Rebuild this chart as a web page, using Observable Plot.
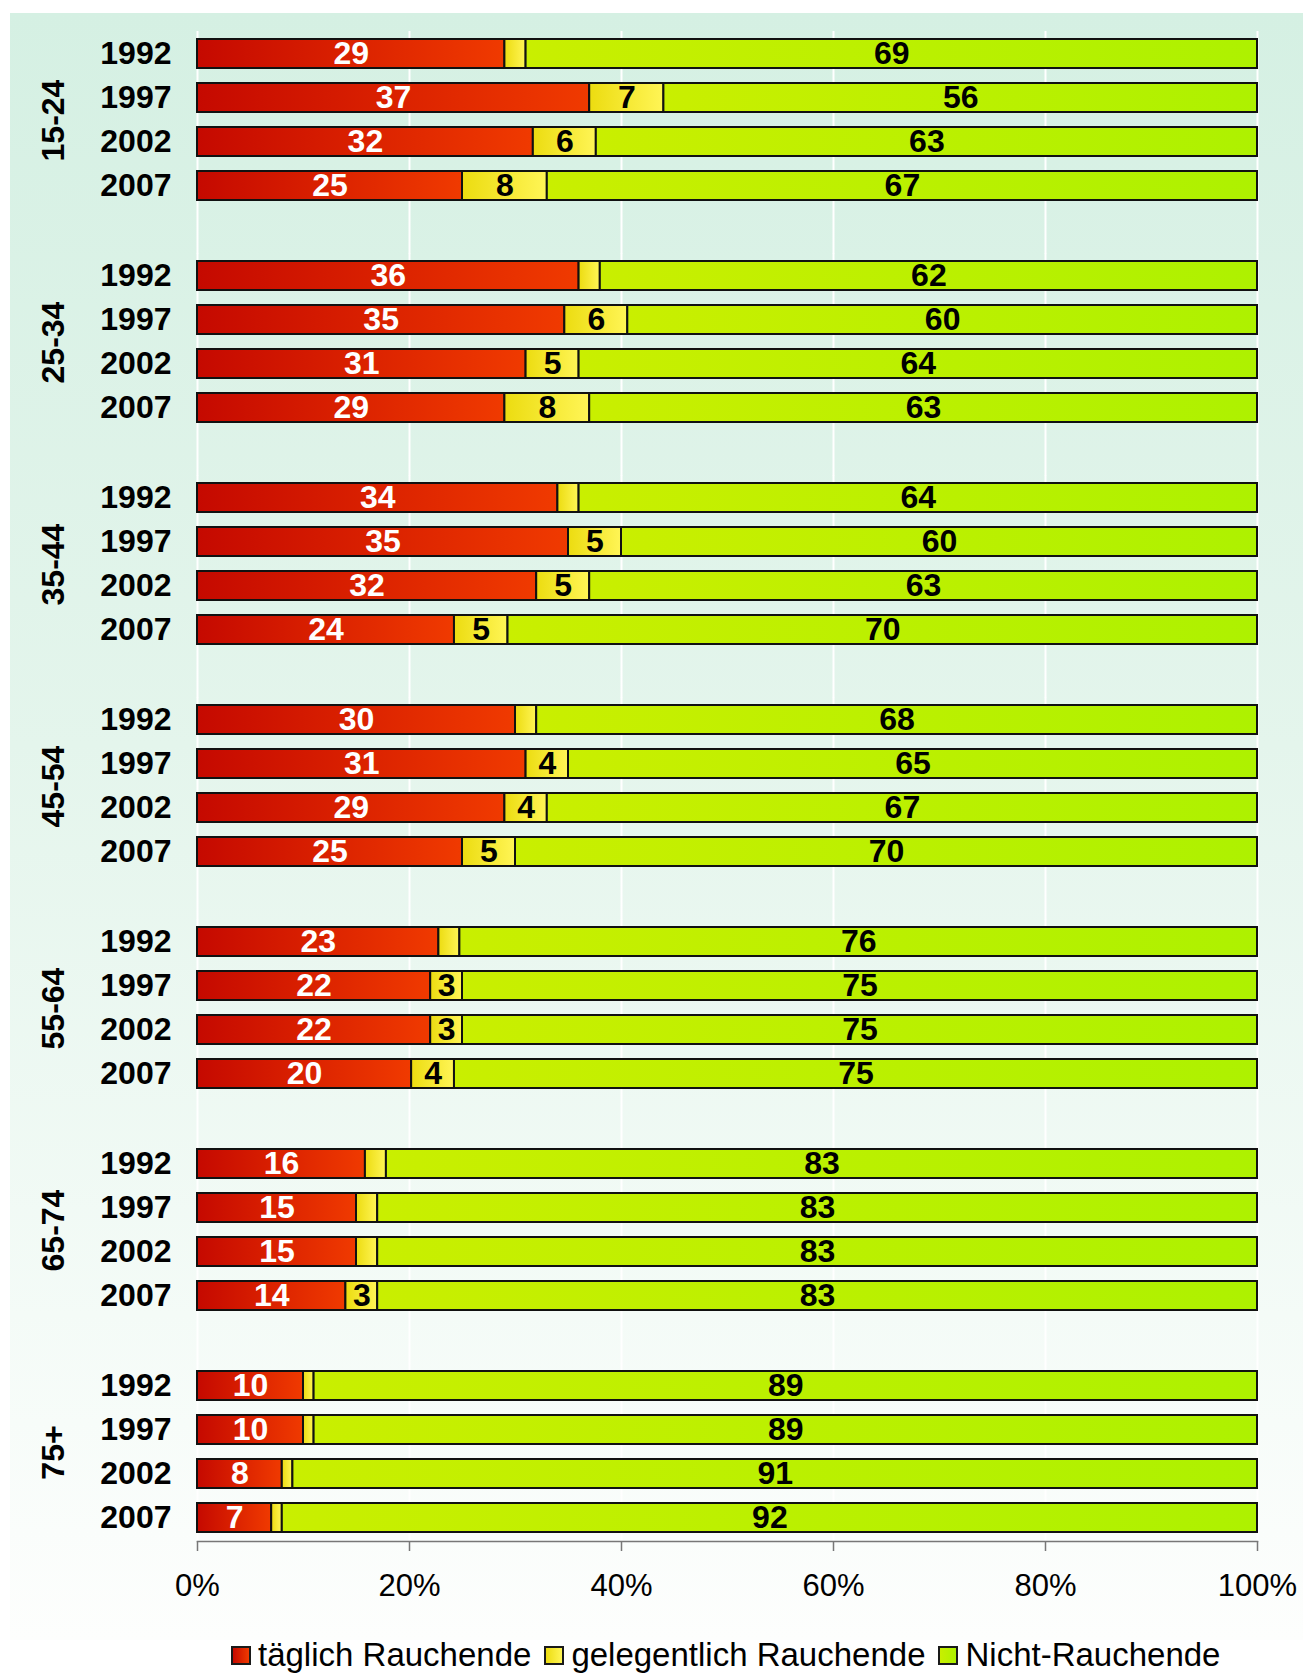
<!DOCTYPE html>
<html>
<head>
<meta charset="utf-8">
<script src="https://cdn.jsdelivr.net/npm/d3@7"></script>
<script src="https://cdn.jsdelivr.net/npm/@observablehq/plot@0.6"></script>
<style>
  html, body { margin: 0; padding: 0; background: white; }
  #wrap { position: relative; width: 1303px; height: 1673px; overflow: hidden; }
  #panel { position: absolute; left: 10px; top: 13px; width: 1293px; height: 1627px;
           background: linear-gradient(to bottom, #d5f0e3 0%, #e4f5ec 45%, #f4fbf7 80%, #fdfefd 100%); }
  #chart { position: absolute; left: 0; top: 0; }
  #legend { position: absolute; left: 231px; top: 1636px; display: flex; align-items: center;
            font-family: "Liberation Sans", Arial, sans-serif; font-size: 33px; color: #000; line-height: 38px; }
  #legend .item { display: flex; align-items: center; margin-right: 13px; }
  #legend .sw { width: 16px; height: 15px; border: 2px solid #1a1a1a; margin-right: 7px; }
</style>
</head>
<body>
<svg width="0" height="0" style="position:absolute">
  <defs>
    <linearGradient id="gRed" x1="0" x2="1" y1="0" y2="0">
      <stop offset="0" stop-color="#c50900"/>
      <stop offset="1" stop-color="#f03a00"/>
    </linearGradient>
    <linearGradient id="gYellow" x1="0" x2="1" y1="0" y2="0">
      <stop offset="0" stop-color="#ecdc10"/>
      <stop offset="1" stop-color="#fff556"/>
    </linearGradient>
    <linearGradient id="gGreen" x1="0" x2="1" y1="0" y2="0">
      <stop offset="0" stop-color="#c9ef00"/>
      <stop offset="1" stop-color="#aef100"/>
    </linearGradient>
  </defs>
</svg>
<div id="wrap">
  <div id="panel"></div>
  <div id="chart"></div>
  <div id="legend"></div>
</div>
<script>
const ageGroups = ["15-24", "25-34", "35-44", "45-54", "55-64", "65-74", "75+"];
const years = ["1992", "1997", "2002", "2007"];
const categories = ["täglich Rauchende", "gelegentlich Rauchende", "Nicht-Rauchende"];
// values per age group (rows) and year (columns 1992, 1997, 2002, 2007)
const daily = [
  29, 37, 32, 25,
  36, 35, 31, 29,
  34, 35, 32, 24,
  30, 31, 29, 25,
  23, 22, 22, 20,
  16, 15, 15, 14,
  10, 10, 8, 7
];
const occasional = [
  2, 7, 6, 8,
  2, 6, 5, 8,
  2, 5, 5, 5,
  2, 4, 4, 5,
  2, 3, 3, 4,
  2, 2, 2, 3,
  1, 1, 1, 1
];
const nonSmoking = [
  69, 56, 63, 67,
  62, 60, 64, 63,
  64, 60, 63, 70,
  68, 65, 67, 70,
  76, 75, 75, 75,
  83, 83, 83, 83,
  89, 89, 91, 92
];
const xTicks = [0, 0.2, 0.4, 0.6, 0.8, 1];

const fills = {
  "täglich Rauchende": "url(#gRed)",
  "gelegentlich Rauchende": "url(#gYellow)",
  "Nicht-Rauchende": "url(#gGreen)"
};
const legendBg = {
  "täglich Rauchende": "linear-gradient(to right, #c50900, #f03a00)",
  "gelegentlich Rauchende": "linear-gradient(to right, #ecdc10, #fff556)",
  "Nicht-Rauchende": "linear-gradient(to right, #c9ef00, #aef100)"
};

const series = [daily, occasional, nonSmoking];
const rows = [];
ageGroups.forEach((g, gi) => {
  years.forEach((y, yi) => {
    categories.forEach((c, ci) => {
      rows.push({group: g, year: y, cat: c, value: series[ci][gi * years.length + yi]});
    });
  });
});
const gridRows = [];
ageGroups.forEach(g => xTicks.forEach(t => gridRows.push({group: g, x: t})));
const lastGroup = ageGroups[ageGroups.length - 1];

const W = 1303, H = 1625, mT = 29, mB = 83, mL = 197, mR = 46;
const fyPad = 0.2;
const fyStep = (H - mT - mB) / (ageGroups.length - fyPad);
const facetGap = fyStep * fyPad;

const stackOpts = {x: "value", y: "year", fy: "group", z: "cat", order: categories, offset: "normalize"};
const font = "Liberation Sans, Arial, sans-serif";

const chart = Plot.plot({
  width: W,
  height: H,
  marginLeft: mL,
  marginRight: mR,
  marginTop: mT,
  marginBottom: mB,
  style: {background: "transparent", fontFamily: font, color: "#000"},
  x: {domain: [0, 1], axis: null},
  y: {domain: years, paddingInner: 0.33, paddingOuter: 0.165, axis: null},
  fy: {domain: ageGroups, paddingInner: fyPad, paddingOuter: 0, axis: null},
  color: {type: "identity"},
  marks: [
    Plot.ruleX(gridRows.filter(d => d.group !== lastGroup), {x: "x", fy: "group", stroke: "white", strokeWidth: 2, insetBottom: -facetGap}),
    Plot.ruleX(gridRows.filter(d => d.group === lastGroup), {x: "x", fy: "group", stroke: "white", strokeWidth: 2}),
    Plot.barX(rows, Plot.stackX({...stackOpts, fill: d => fills[d.cat], stroke: "#111", strokeWidth: 2})),
    Plot.textX(rows, Plot.stackX({
      ...stackOpts,
      text: d => d.value >= 3 ? String(d.value) : "",
      fill: d => d.cat === categories[0] ? "white" : "black",
      fontSize: 32,
      fontWeight: "bold"
    })),
    Plot.axisY({anchor: "left", tickSize: 0, tickPadding: 26, fontSize: 32, fontWeight: "bold", label: null}),
    Plot.axisFy({anchor: "left", tickSize: 0, tickPadding: 144, tickRotate: -90, textAnchor: "middle", lineAnchor: "middle", fontSize: 32, fontWeight: "bold", label: null}),
    Plot.axisX({anchor: "bottom", ticks: xTicks, tickSize: 10, tickPadding: 22, stroke: "#777", strokeWidth: 1.5,
      tickFormat: d => Math.round(d * 100) + "%", fontSize: 31, label: null}),
    Plot.frame({anchor: "bottom", facet: "super", stroke: "#777", strokeWidth: 1.5})
  ]
});
document.getElementById("chart").appendChild(chart);

const legend = document.getElementById("legend");
categories.forEach(c => {
  const item = document.createElement("div");
  item.className = "item";
  const sw = document.createElement("span");
  sw.className = "sw";
  sw.style.background = legendBg[c];
  const t = document.createElement("span");
  t.textContent = c;
  item.appendChild(sw);
  item.appendChild(t);
  legend.appendChild(item);
});
</script>
</body>
</html>
